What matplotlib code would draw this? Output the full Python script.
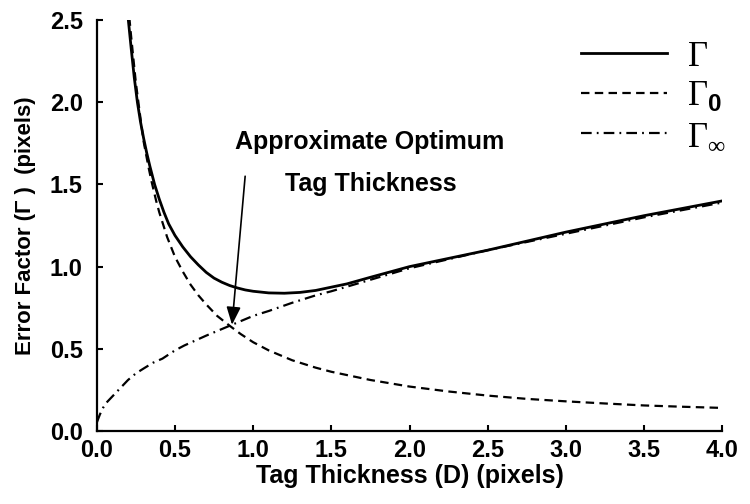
import matplotlib
matplotlib.use("Agg")
import matplotlib.pyplot as plt
from matplotlib.lines import Line2D

# Font setup: bold sans for axes, serif for the legend symbols
plt.rcParams['font.family'] = ['Liberation Sans', 'DejaVu Sans']
plt.rcParams['mathtext.fontset'] = 'custom'
plt.rcParams['mathtext.rm'] = 'Liberation Serif'
plt.rcParams['mathtext.bf'] = 'Liberation Sans:bold'

# Values
d_total = [0.20, 0.22, 0.24, 0.26, 0.28, 0.30, 0.32, 0.34, 0.37, 0.40, 0.43, 0.46,
           0.50, 0.55, 0.60, 0.65, 0.70, 0.75, 0.80, 0.85, 0.90, 0.95, 1.00, 1.10,
           1.20, 1.30, 1.40, 1.50, 1.60, 1.75, 2.00, 2.25, 2.50, 2.75, 3.00, 3.25,
           3.50, 3.75, 4.00]
gamma_total = [2.52, 2.33, 2.15, 2.00, 1.88, 1.78, 1.69, 1.61, 1.50, 1.41, 1.33, 1.26,
               1.19, 1.12, 1.06, 1.01, 0.965, 0.93, 0.905, 0.885, 0.87, 0.858, 0.85, 0.84,
               0.838, 0.843, 0.855, 0.875, 0.895, 0.935, 1.00, 1.05, 1.10, 1.155, 1.21, 1.26,
               1.31, 1.355, 1.40]

d_zero = [0.20, 0.22, 0.25, 0.28, 0.30, 0.33, 0.35, 0.38, 0.40, 0.45, 0.50, 0.55,
          0.60, 0.65, 0.70, 0.77, 0.85, 0.92, 1.00, 1.10, 1.25, 1.40, 1.50, 1.75,
          2.00, 2.25, 2.50, 2.75, 3.00, 3.25, 3.50, 3.75, 4.00]
gamma_zero = [2.60, 2.40, 2.12, 1.90, 1.76, 1.61, 1.52, 1.40, 1.33, 1.18, 1.06, 0.97,
              0.89, 0.825, 0.77, 0.70, 0.64, 0.59, 0.54, 0.49, 0.43, 0.385, 0.36, 0.31,
              0.27, 0.24, 0.215, 0.195, 0.18, 0.167, 0.155, 0.147, 0.14]

d_inf = [0.00, 0.02, 0.04, 0.06, 0.08, 0.10, 0.15, 0.20, 0.25, 0.30, 0.36, 0.42,
         0.50, 0.56, 0.63, 0.70, 0.75, 0.85, 1.00, 1.10, 1.25, 1.40, 1.50, 1.75,
         2.00, 2.25, 2.50, 2.75, 3.00, 3.25, 3.50, 3.75, 4.00]
gamma_inf = [0.05, 0.10, 0.14, 0.17, 0.19, 0.21, 0.26, 0.31, 0.35, 0.38, 0.415, 0.44,
             0.49, 0.52, 0.55, 0.58, 0.60, 0.64, 0.70, 0.73, 0.78, 0.825, 0.85, 0.92,
             0.99, 1.045, 1.10, 1.15, 1.20, 1.25, 1.30, 1.345, 1.39]

x_ticks = [0.0, 0.5, 1.0, 1.5, 2.0, 2.5, 3.0, 3.5, 4.0]
y_ticks = [0.0, 0.5, 1.0, 1.5, 2.0, 2.5]

dash_zero = (0, (3.8, 2.4))
dash_inf = (0, (4.8, 2.3, 0.8, 2.3))

fig = plt.figure(figsize=(7.5, 5.04), dpi=100)
ax = fig.add_axes([0.129, 0.145, 0.834, 0.815])

ax.plot(d_total, gamma_total, color='black', lw=2.0, solid_capstyle='butt', solid_joinstyle='round')
ax.plot(d_zero, gamma_zero, color='black', lw=1.6, linestyle=dash_zero)
ax.plot(d_inf, gamma_inf, color='black', lw=1.6, linestyle=dash_inf)

ax.set_xlim(0, 4.0)
ax.set_ylim(0, 2.5)
ax.set_xticks(x_ticks)
ax.set_yticks(y_ticks)
ax.set_xticklabels([f"{t:.1f}" for t in x_ticks])
ax.set_yticklabels([f"{t:.1f}" for t in y_ticks])

for side in ['top', 'right']:
    ax.spines[side].set_visible(False)
for side in ['left', 'bottom']:
    ax.spines[side].set_linewidth(1.6)

ax.tick_params(axis='both', direction='in', length=4, width=1.5, labelsize=17)
ax.tick_params(axis='x', pad=6)
ax.tick_params(axis='y', pad=10)
for lbl in ax.get_xticklabels() + ax.get_yticklabels():
    lbl.set_fontweight('bold')

ax.set_xlabel('Tag Thickness (D) (pixels)', fontsize=18, fontweight='bold', labelpad=1)
ax.set_ylabel('Error Factor (\u0393 )  (pixels)', fontsize=16, fontweight='bold', labelpad=10)

# Annotation for the crossing point
ax.text(0.885, 1.76, 'Approximate Optimum', fontsize=18, fontweight='bold', va='center')
ax.text(1.205, 1.50, 'Tag Thickness', fontsize=18, fontweight='bold', va='center')
ax.annotate('', xy=(0.865, 0.646), xytext=(0.949, 1.55),
            arrowprops=dict(arrowstyle='-|>,head_length=0.6,head_width=0.24', color='black',
                            lw=1.2, mutation_scale=18, shrinkA=0, shrinkB=0))

# Legend
handles = [
    Line2D([], [], color='black', lw=2.0),
    Line2D([], [], color='black', lw=1.6, linestyle=dash_zero),
    Line2D([], [], color='black', lw=1.6, linestyle=dash_inf),
]
labels = [r'$\Gamma$', r'$\Gamma_{\mathbf{0}}$', r'$\Gamma_{\infty}$']
ax.legend(handles, labels, loc='upper right', bbox_to_anchor=(1.034, 0.995), frameon=False,
          fontsize=25, handlelength=2.45, handletextpad=0.6, labelspacing=0.18,
          borderpad=0)

fig.savefig('out.png', dpi=100)
